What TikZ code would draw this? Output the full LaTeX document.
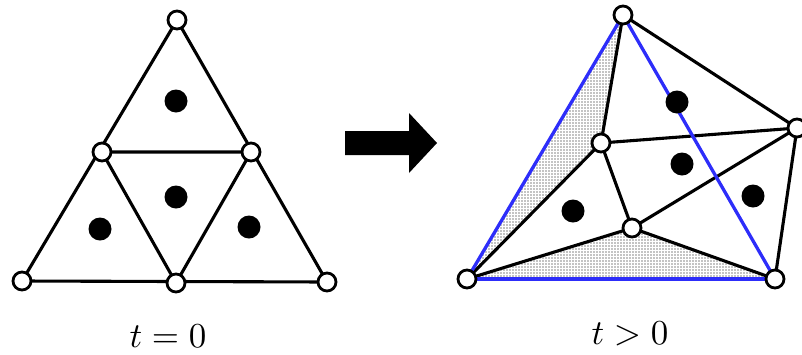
\documentclass[tikz,border=0pt]{standalone}
\usetikzlibrary{patterns.meta}
\definecolor{edgeblue}{RGB}{45,45,250}
\tikzdeclarepattern{
  name=finedots,
  type=uncolored,
  bottom left={(-1.5pt,-1.5pt)},
  top right={(1.5pt,1.5pt)},
  tile size={(3pt,3pt)},
  code={\fill (0pt,0pt) circle (0.55pt);}
}
\begin{document}
\begin{tikzpicture}[x=1pt,y=-1pt,
  vtx/.style={circle,draw=black,fill=white,line width=2.8pt,minimum size=18pt,inner sep=0pt},
  blob/.style={circle,fill=black,minimum size=23pt,inner sep=0pt},
  edge/.style={line width=3.1pt,black},
  bedge/.style={line width=3.3pt,edgeblue},
  lbl/.style={anchor=base,inner sep=0pt}]
\useasboundingbox (0,0) rectangle (802,354);
% left figure
\coordinate (lT) at (177,20);
\coordinate (lML) at (102,152);
\coordinate (lMR) at (251,152);
\coordinate (lBL) at (22,281);
\coordinate (lBM) at (176,283);
\coordinate (lBR) at (327,282);
\draw[edge,line join=round] (lT) -- (lBL) -- (lBR) -- cycle;
\draw[edge] (lML) -- (lMR) -- (lBM) -- cycle;
\node[blob] (d1) at (176,101) {};
\node[blob] (d2) at (176,197) {};
\node[blob] (d3) at (100,229) {};
\node[blob] (d4) at (249,227) {};
\node[vtx] (T) at (lT) {};
\node[vtx] (ML) at (lML) {};
\node[vtx] (MR) at (lMR) {};
\node[vtx] (BL) at (lBL) {};
\node[vtx] (BM) at (lBM) {};
\node[vtx] (BR) at (lBR) {};
\node[lbl] (t0) at (168,347) {\scalebox{3.5}{$t=0$}};
% arrow
\fill[black] (345,131) -- (409,131) -- (409,113) -- (437,143) -- (409,173) -- (409,155) -- (345,155) -- cycle;
% right figure
\coordinate (pA) at (623,15);
\coordinate (pB) at (601,143);
\coordinate (pC) at (797,128);
\coordinate (pD) at (632,228);
\coordinate (pE) at (467,279);
\coordinate (pF) at (775,279);
\fill[pattern=finedots,pattern color=black] (pE) -- (pA) -- (pB) -- cycle;
\fill[pattern=finedots,pattern color=black] (pE) -- (pD) -- (pF) -- cycle;
\draw[edge] (pA) -- (pB);
\draw[edge] (pA) -- (pC);
\draw[edge] (pB) -- (pC);
\draw[edge] (pB) -- (pE);
\draw[edge] (pB) -- (pD);
\draw[edge] (pD) -- (pC);
\draw[edge] (pD) -- (pE);
\draw[edge] (pD) -- (pF);
\draw[edge] (pC) -- (pF);
\draw[bedge] (pA) -- (pE);
\draw[bedge] (pA) -- (pF);
\draw[bedge] (pE) -- (pF);
\node[blob] (e1) at (677,102) {};
\node[blob] (e2) at (682,164) {};
\node[blob] (e3) at (753,196) {};
\node[blob] (e4) at (573,211) {};
\node[vtx] (A) at (pA) {};
\node[vtx] (B) at (pB) {};
\node[vtx] (C) at (pC) {};
\node[vtx] (D) at (pD) {};
\node[vtx] (E) at (pE) {};
\node[vtx] (F) at (pF) {};
\node[lbl] (t1) at (630,344) {\scalebox{3.5}{$t>0$}};
\end{tikzpicture}
\end{document}
